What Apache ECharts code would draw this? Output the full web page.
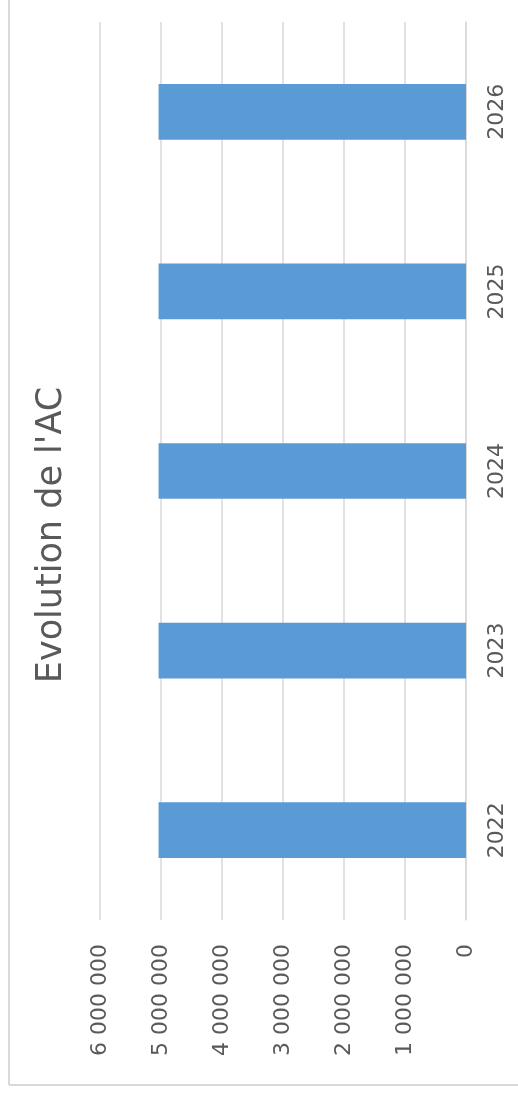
<!DOCTYPE html>
<html>
<head>
<meta charset="utf-8">
<script src="https://cdn.jsdelivr.net/npm/echarts@6/dist/echarts.min.js"></script>
<style>
html,body{margin:0;padding:0;background:#fff;}
#chart{width:518px;height:1097px;}
</style>
</head>
<body>
<div id="chart"></div>
<script>
const titleText = "Evolution de l'AC";
const categories = ["2022", "2023", "2024", "2025", "2026"];
const values = [5040000, 5040000, 5040000, 5040000, 5040000];
const axisMin = 0;
const axisMax = 6000000;
const axisStep = 1000000;

function fmt(v) {
  return String(Math.round(v)).replace(/\B(?=(\d{3})+(?!\d))/g, " ");
}

const chart = echarts.init(document.getElementById('chart'));
chart.setOption({
  animation: false,
  backgroundColor: '#ffffff',
  textStyle: { fontFamily: 'DejaVu Sans' },
  grid: { left: 100, right: 52, top: 22, bottom: 177, containLabel: false },
  xAxis: {
    type: 'value',
    inverse: true,
    min: axisMin, max: axisMax, interval: axisStep,
    position: 'bottom',
    axisLine: { show: false },
    axisTick: { show: false },
    splitLine: { show: true, lineStyle: { color: '#d9d9d9', width: 1.5 } },
    axisLabel: {
      rotate: 90, margin: 24, color: '#595959', fontSize: 22,
      fontFamily: 'DejaVu Sans',
      formatter: fmt
    }
  },
  yAxis: {
    type: 'category',
    data: categories,
    position: 'right',
    axisLine: { show: true, lineStyle: { color: '#d9d9d9', width: 1.5 } },
    axisTick: { show: false },
    splitLine: { show: false },
    axisLabel: {
      rotate: 90, margin: 20, color: '#595959', fontSize: 22,
      fontFamily: 'DejaVu Sans'
    }
  },
  series: [{
    type: 'bar',
    data: values,
    barWidth: '31%',
    itemStyle: { color: '#5b9bd5' }
  }],
  graphic: [
    {
      type: 'text',
      x: 52, y: 535,
      rotation: Math.PI / 2,
      style: {
        text: titleText,
        fill: '#595959',
        font: '35px "DejaVu Sans"',
        align: 'center',
        verticalAlign: 'middle'
      }
    },
    {
      type: 'line',
      shape: { x1: 9, y1: 0, x2: 9, y2: 1085 },
      style: { stroke: '#d9d9d9', lineWidth: 2 }
    },
    {
      type: 'line',
      shape: { x1: 9, y1: 1085, x2: 518, y2: 1085 },
      style: { stroke: '#d9d9d9', lineWidth: 2 }
    }
  ]
});
</script>
</body>
</html>
